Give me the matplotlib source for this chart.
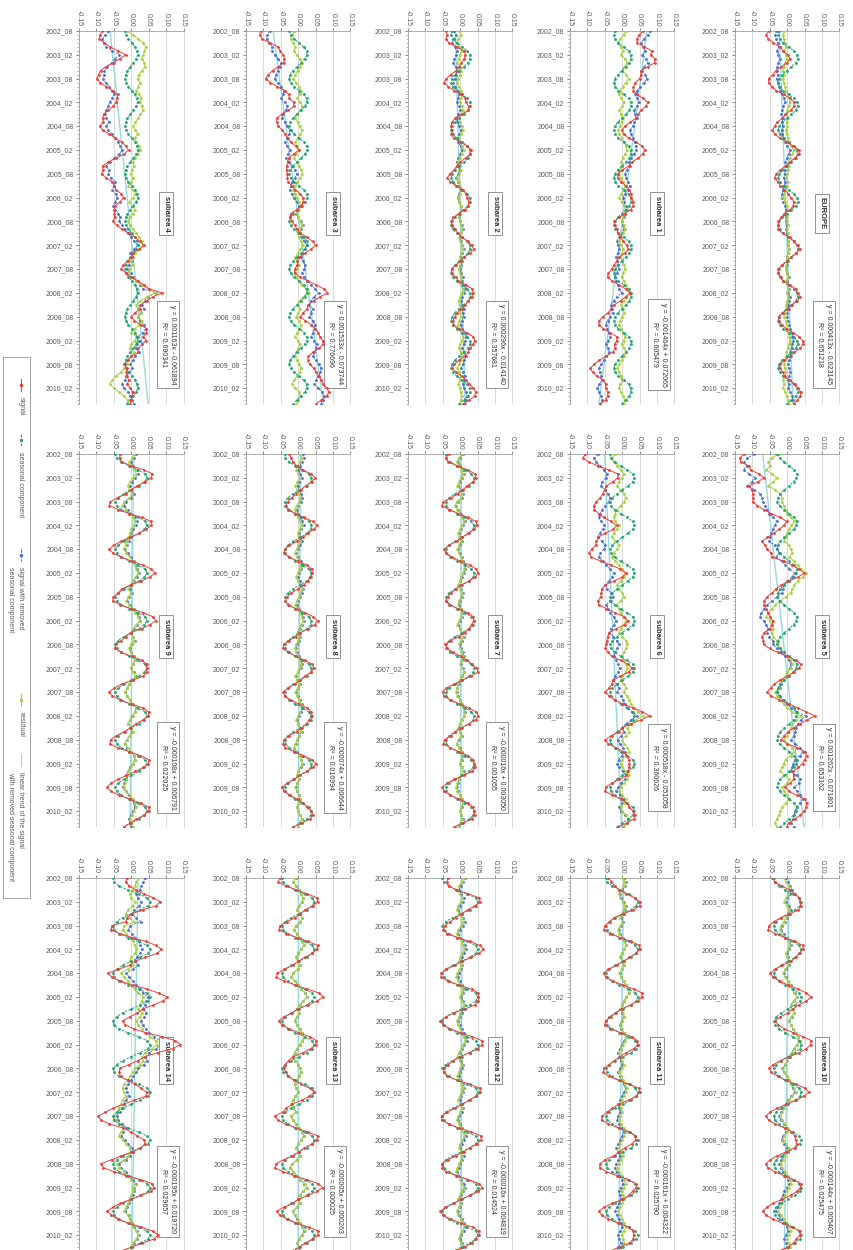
import numpy as np
import matplotlib
matplotlib.use("Agg")
import matplotlib.pyplot as plt
from matplotlib.lines import Line2D
from matplotlib.patches import Rectangle
from matplotlib.ticker import MultipleLocator

plt.rcParams['font.family'] = ['Liberation Sans', 'DejaVu Sans']

# ---- data -------------------------------------------------------------
n_months = 95  # 2002_08 .. 2010_06
date_labels = ['2002_08', '2003_02', '2003_08', '2004_02', '2004_08', '2005_02',
               '2005_08', '2006_02', '2006_08', '2007_02', '2007_08', '2008_02',
               '2008_08', '2009_02', '2009_08', '2010_02']
value_ticks = [-0.15, -0.10, -0.05, 0.00, 0.05, 0.10, 0.15]

names = ['EUROPE', 'subarea 1', 'subarea 2', 'subarea 3', 'subarea 4',
         'subarea 5', 'subarea 6', 'subarea 7', 'subarea 8', 'subarea 9',
         'subarea 10', 'subarea 11', 'subarea 12', 'subarea 13', 'subarea 14']
slopes = [0.000413, -0.001464, 0.000296, 0.001533, 0.001163,
          0.001262, 0.000518, -0.000016, -0.000074, -0.000108,
          -0.000144, -0.000161, -0.000016, -0.000005, -0.000195]
intercepts = [-0.023145, 0.072065, -0.014140, -0.073744, -0.061894,
              -0.071801, -0.051058, 0.003050, 0.006644, 0.006791,
              0.005407, 0.004322, 0.004819, 0.000263, 0.019720]
r_squared = ['0.651218', '0.605479', '0.357681', '0.776696', '0.690341',
             '0.653162', '0.360626', '0.001055', '0.016994', '0.022025',
             '0.025475', '0.025790', '0.014524', '0.000025', '0.029657']

# seasonal component, Jan..Dec (thousandths)
seas_eu = [18, 27, 30, 24, 12, -2, -14, -23, -26, -22, -12, 4]
seas_1 = [18, 24, 25, 20, 10, -2, -13, -21, -24, -20, -11, 4]
seas_2 = [20, 27, 28, 22, 10, -4, -16, -24, -26, -21, -10, 6]
seas_3 = [24, 25, 18, 8, -4, -15, -23, -26, -22, -12, 2, 16]
seas_4 = [16, 18, 14, 6, -3, -11, -16, -18, -15, -8, 2, 11]
seas_5 = [28, 26, 18, 6, -8, -20, -27, -28, -22, -10, 6, 20]
seas_6 = [30, 35, 30, 16, 0, -15, -28, -35, -33, -22, -5, 14]
seas_7 = [32, 40, 38, 25, 6, -15, -32, -41, -40, -28, -8, 14]
seas_8 = [30, 38, 36, 24, 6, -14, -30, -38, -37, -26, -8, 12]
seas_9 = [40, 45, 38, 22, 0, -22, -38, -46, -42, -28, -6, 20]
seas_10 = [34, 40, 36, 22, 2, -18, -32, -38, -36, -25, -6, 16]
seas_11 = [38, 45, 40, 25, 3, -20, -38, -46, -43, -30, -8, 18]
seas_12 = [44, 50, 44, 27, 4, -22, -42, -51, -47, -33, -9, 20]
seas_13 = [40, 46, 40, 24, 2, -20, -38, -46, -43, -30, -8, 18]
seas_14 = [45, 55, 48, 25, 0, -25, -42, -52, -50, -35, -10, 22]

# deseasoned signal minus linear trend, monthly from 2002_08 (thousandths);
# this is also the plotted residual unless one is given below
res_eu = [-8, -12, -10, -6, -4, -9, -5, -2, -6, -10, -12, -9,
          -13, -10, -6, -3, 2, 6, 8, 4, 0, -3, 2, -2,
          0, -4, -2, 3, 6, 10, 18, 14, 8, 4, 6, 2,
          0, -3, 2, -1, -6, -9, -11, -6, -2, 1, -3, 0,
          0, 3, -2, 1, 4, 2, 3, 6, 1, -2, 0, -3,
          -5, -2, 1, -3, 0, 2, -2, 3, -1, -4, -2, -6,
          -9, -5, -2, 1, 4, 6, 8, 5, 2, -3, -1, -6,
          -10, -7, -4, -8, -11, -9, -11, -6, -2, 1, 4]
res_1 = [10, 4, -6, -12, -5, 3, -4, 8, 14, 6, 0, 12,
         18, 10, 2, -6, -10, -3, 5, 0, -8, -4, 3, -2,
         -6, -12, -8, 0, 6, 10, 14, 8, 2, -4, 0, -6,
         -10, -5, 2, 8, 4, -3, -8, -2, 5, 10, 6, 2,
         -2, 4, 8, 3, -4, -8, -3, 2, -2, -6, 0, 5,
         8, 3, -2, 4, 10, 16, 24, 12, 4, -3, 2, 6,
         0, -6, -10, -4, 2, 8, 4, -2, 6, 10, 4, -2,
         -8, -14, -10, -4, 0, -6, -10, -4, 2, 8, 4]
res_2 = [-4, 2, -6, -10, -3, 4, 0, -5, -8, -2, 3, -1,
         -6, -10, -4, 2, 6, 3, -2, 4, 8, 2, -4, 0,
         4, 8, 2, -3, 0, 6, 10, 5, -2, -6, -2, 2,
         -3, -8, -5, 0, 4, -2, -6, -3, 2, 5, 0, -4,
         -2, 3, 6, 2, -3, 0, 4, 8, 3, -2, 2, -1,
         -5, -2, 3, 0, 5, 9, 4, -1, -5, -2, 3, 0,
         2, -3, -7, -2, 4, 8, 5, 0, -4, 2, 6, 1,
         -4, -8, -3, 2, -2, -6, -2, 3, 6, 2, -1]
res_3 = [-10, -18, -22, -15, -8, -12, -5, 4, 10, 5, -2, -8,
         -14, -6, 2, 8, 4, -3, 6, 12, 5, -4, -8, -2,
         4, 10, 6, -2, -8, -4, 3, -6, -12, -5, 2, 8,
         12, 6, -3, -8, -14, -10, -4, 2, 8, 3, -4, 0,
         6, 10, 4, -2, 2, 8, 14, 6, -2, -8, -4, 2,
         -4, -10, -6, 2, 10, 22, 30, 14, 4, -2, 6, 0,
         -6, 2, 8, 4, -3, -8, -2, 5, 0, -6, -10, -4,
         2, 8, 4, -4, -12, -18, -8, 2, 6, 0, -6]
res_4 = [-5, -15, -25, -22, -15, 0, 20, 5, -5, -20, -28, -30,
         -34, -28, -20, -12, -8, -15, -22, -28, -35, -40, -36, -30,
         -40, -35, -25, -18, -10, -5, 0, -10, -25, -40, -50, -45,
         -48, -40, -30, -35, -40, -32, -28, -35, -42, -38, -30, -25,
         -30, -22, -15, -8, 0, 8, 16, 5, -8, 0, -6, -15,
         -20, -10, -5, 5, 12, 20, 55, 30, 20, 10, 15, 5,
         -5, 0, 10, 15, 5, -10, -5, -15, -20, -10, -25, -30,
         -40, -35, -45, -55, -60, -70, -65, -55, -50, -45, -40]
res_4_plot = [-12, 5, 20, 35, 42, 38, 35, 30, 38, 40, 30, 22,
              18, 25, 20, 15, 22, 28, 26, 30, 35, 25, 20, 12,
              6, 12, 18, 10, 15, 22, 26, 18, 10, 5, 8, 2,
              -2, 5, 0, -8, 4, 12, 6, -6, 2, 10, 4, -4,
              -10, -4, 6, 15, 22, 30, 35, 25, 10, 4, -2, 5,
              -5, -10, 0, 15, 30, 50, 72, 45, 25, 15, 20, 28,
              20, 30, 22, 10, 0, 15, 10, -2, -5, 8, 0, -8,
              -12, -20, -30, -45, -55, -62, -50, -35, -20, -10, -12]
res_5 = [-25, -45, -55, -50, -60, -45, -30, -40, -55, -35, -20, -15,
         -15, -10, -5, 0, 10, 20, 12, 5, 0, -5, -10, 5,
         10, 15, 5, 20, 30, 40, 55, 45, 30, 20, 15, 10,
         -5, -20, -35, -45, -55, -60, -50, -45, -40, -45, -40, -30,
         -30, -20, -10, 0, 10, 15, 10, 0, -5, -15, -20, -25,
         -35, -30, -20, -10, 0, 15, 40, 25, 15, 10, 5, 0,
         -10, 0, 15, 20, 10, -5, -10, -15, -20, -5, 5, 0,
         -15, -10, 0, 5, -5, -15, -20, -25, -30, -35, -30]
res_6 = [-20, -30, -25, -15, -5, 5, 0, -10, -15, -5, 5, 10,
         5, -5, -15, -20, -25, -20, -10, -15, -25, -30, -20, -10,
         -15, -25, -30, -20, -10, 0, 10, 5, -5, -15, -10, 0,
         5, -5, -15, -10, -5, 5, 10, 5, -5, -10, 0, 10,
         15, 10, 5, 0, 5, 10, 15, 10, 0, -5, 5, 10,
         5, 15, 20, 25, 35, 45, 60, 40, 25, 15, 20, 10,
         0, 5, 15, 20, 10, 0, -5, 0, 10, 20, 15, 5,
         -5, -10, 0, 10, 5, -5, 0, 10, 20, 15, 5]
res_7 = [5, -5, -10, -3, 4, 8, 2, -4, -8, 0, 6, 3,
         -10, -15, -8, 0, 5, 10, 6, -2, -6, -3, 2, -4,
         -8, -4, 2, 6, 10, 12, 8, 3, -2, -6, 0, 4,
         2, -3, -6, 0, 6, 3, -4, -8, -2, 4, 8, 2,
         -4, 0, 5, 8, 4, 0, 6, 10, 4, -2, -6, -10,
         -12, -8, -2, 4, 8, 12, 10, 4, -2, -6, -2, 3,
         -6, -10, -4, 2, 6, 3, -2, 4, 8, 2, -4, -8,
         -12, -8, -2, 4, 8, 3, -2, 2, 6, 0, -4]
res_8 = [6, 10, 4, -2, -6, 0, 5, -3, -8, -4, 2, 6,
         3, -5, -10, -6, 0, 6, 10, 4, -2, 2, 6, 0,
         -5, -10, -4, 3, 8, 4, -2, -6, 0, 5, 10, 6,
         2, -4, -8, -2, 4, 10, 14, 8, 2, -3, 3, 0,
         -6, -10, -6, 0, 4, 8, 4, -2, -8, -4, 2, -2,
         -8, -4, 2, 8, 12, 6, 0, -6, -2, 4, 8, 2,
         -4, -8, -12, -6, 2, 8, 12, 6, 0, -4, 2, -3,
         -8, -4, 2, 6, 2, -4, 0, 6, 10, 4, 0]
res_9 = [8, 2, -6, 0, 10, 14, 6, -4, -10, -6, 2, -6,
         -20, -26, -15, -5, 6, 12, 8, 0, -4, -8, -12, -16,
         -22, -14, -4, 4, 10, 14, 20, 12, 4, -4, -8, -2,
         -8, -14, -6, 4, 12, 20, 24, 14, 6, -2, 4, 8,
         0, -6, -2, 6, 10, 4, -2, 6, 12, 4, -6, -12,
         -18, -12, -4, 6, 14, 10, 4, -4, -8, -2, 4, -4,
         -12, -18, -10, 0, 8, 12, 6, -2, -8, -12, -14, -18,
         -22, -14, -4, 4, 10, 14, 8, 2, -4, 0, 4]
res_10 = [-10, -4, 4, 8, 2, -4, -8, 0, 6, 2, -4, -10,
          -18, -22, -14, -4, 4, 8, 2, -4, 0, 6, 2, -6,
          -12, -6, 2, 8, 14, 20, 28, 18, 10, 14, 20, 12,
          4, 10, 16, 24, 30, 36, 28, 20, 14, 6, 0, -6,
          -12, -8, 0, 6, 12, 20, 24, 14, 6, -2, -8, -14,
          -20, -14, -6, 2, 0, -8, -12, -4, 4, 0, -6, -12,
          -18, -14, -6, 2, 8, 12, 4, -2, -6, -12, -16, -20,
          -26, -18, -8, 0, 6, 10, 4, -2, 4, 8, 2]
res_11 = [2, 8, 4, -4, -10, -6, 2, 8, 4, -2, -6, 0,
          -6, -12, -8, 0, 6, 10, 4, -2, -6, 0, 4, -2,
          -8, -4, 4, 10, 16, 20, 12, 6, 0, -4, 2, 6,
          0, -6, -2, 6, 12, 8, 2, -4, -10, -6, 0, 4,
          -2, -8, -4, 2, 8, 14, 10, 4, -2, -8, -4, 0,
          -6, -10, -4, 4, 10, 6, 0, -6, -10, -4, 2, -4,
          -10, -14, -8, 0, 6, 10, 4, -2, 2, 6, 0, -6,
          -12, -6, 0, 6, 10, 4, -2, 2, 6, 0, -4]
res_12 = [10, 4, -4, -8, -2, 6, 2, -6, -10, -4, 4, 8,
          2, -6, -10, -4, 4, 8, 12, 6, 0, -4, 2, -2,
          -8, -12, -6, 2, 8, 4, -2, 4, 10, 6, 0, -4,
          -10, -6, 0, 6, 10, 14, 8, 2, -4, -8, -2, 4,
          0, -4, -8, -2, 4, 8, 4, -2, -6, -2, 4, 0,
          -6, -10, -4, 2, 8, 12, 6, 0, -4, 2, 6, 2,
          -4, -8, -12, -6, 0, 6, 10, 4, -2, -6, 0, -4,
          -10, -6, 2, 8, 12, 6, 0, -4, 2, 6, 0]
res_13 = [-8, -14, -6, 2, 8, 14, 10, 2, -4, 4, 10, 6,
          -6, -12, -4, 4, 10, 16, 8, 0, -6, -2, 4, -2,
          -14, -20, -10, 0, 8, 20, 26, 14, 4, -4, 2, -4,
          -10, -4, 4, 10, 16, 12, 4, -4, -10, -16, -8, 0,
          4, 8, 2, -4, -10, -6, 0, -8, -14, -20, -14, -6,
          -22, -16, -6, 2, 10, 16, 8, 0, -6, 0, 6, -4,
          -18, -24, -14, -4, 6, 18, 24, 14, 4, -2, 4, -4,
          -16, -10, -2, 6, 12, 18, 10, 2, -4, 2, 6]
res_14 = [20, 15, 10, 5, -5, 0, 10, 5, -10, -15, -5, 10,
          -20, -25, -15, -5, 5, 10, 15, 10, 0, -5, 5, -10,
          -30, -20, -10, 0, 10, 20, 35, 30, 25, 20, 30, 25,
          15, 20, 30, 40, 55, 70, 75, 60, 40, 30, 35, 25,
          10, 5, -5, -10, -20, -25, -20, -15, -25, -30, -35, -40,
          -50, -45, -35, -20, -30, -35, -25, -15, -5, 0, -10, -20,
          -40, -35, -20, -10, 0, 10, 5, 5, 0, -5, -10, -15,
          -20, -10, -5, 0, 5, 15, 20, 15, 5, 0, -5]

seasonals = [seas_eu, seas_1, seas_2, seas_3, seas_4, seas_5, seas_6, seas_7,
             seas_8, seas_9, seas_10, seas_11, seas_12, seas_13, seas_14]
residuals = [res_eu, res_1, res_2, res_3, res_4, res_5, res_6, res_7,
             res_8, res_9, res_10, res_11, res_12, res_13, res_14]
plotted_residuals = {4: res_4_plot}

# ---- style ------------------------------------------------------------
c_signal = '#e8413c'
c_season = '#26a373'
c_deseas = '#4d6fcb'
c_resid = '#a6d13c'
c_trend = '#96d8e0'
c_text = '#5a5a5a'

W, H = 854, 1250
fig = plt.figure(figsize=(W / 100, H / 100), dpi=100)

col_left = [79, 246, 408, 570, 735]
row_top = [31, 454, 878]
ax_w, ax_h = 104.5, 373


def fx(px):
    return px / W


def fy(py):
    return 1 - py / H


months = np.arange(n_months)
for k, name in enumerate(names):
    row = k // 5
    col = 4 - k % 5
    ax = fig.add_axes([fx(col_left[col]), fy(row_top[row] + ax_h), ax_w / W, ax_h / H])

    a, b = slopes[k], intercepts[k]
    trend = a * (months + 1) + b
    seas = np.array([seasonals[k][(7 + i) % 12] for i in months]) / 1000.0
    dev = np.array(residuals[k]) / 1000.0
    deseas = trend + dev
    signal = deseas + seas
    resid = np.array(plotted_residuals.get(k, residuals[k])) / 1000.0

    ax.plot(trend, months, color=c_trend, lw=1.0, zorder=2)
    ax.plot(deseas, months, color=c_deseas, lw=0.6, ls=(0, (3, 1.5)),
            marker='o', ms=1.0, zorder=3)
    ax.plot(resid, months, color=c_resid, lw=0.7, marker='o', ms=1.0, zorder=4)
    ax.plot(seas, months, color=c_season, lw=0.7, ls=(0, (2.5, 1.5)),
            marker='o', ms=1.0, zorder=5)
    ax.plot(signal, months, color=c_signal, lw=0.7, marker='o', ms=1.0, zorder=6)

    ax.set_xlim(-0.15, 0.15)
    ax.set_ylim(n_months - 1, 0)
    ax.set_xticks(value_ticks)
    ax.set_xticklabels(['%.2f' % v for v in value_ticks])
    ax.xaxis.tick_top()
    ax.tick_params(axis='x', rotation=-90, labelsize=5, colors=c_text,
                   length=2, width=0.5, pad=1.5)
    ax.set_yticks(np.arange(0, 91, 6))
    ax.set_yticklabels(date_labels)
    ax.yaxis.set_minor_locator(MultipleLocator(1))
    ax.tick_params(axis='y', which='major', labelsize=5, colors=c_text,
                   length=2, width=0.5, pad=2)
    ax.tick_params(axis='y', which='minor', colors='#909090', length=1.5, width=0.5)
    ax.grid(axis='x', color='#d4d4d4', lw=0.6)
    ax.set_axisbelow(True)
    for s in ['top', 'left']:
        ax.spines[s].set_color('#a0a0a0')
        ax.spines[s].set_linewidth(0.6)
    ax.spines['right'].set_color('#d4d4d4')
    ax.spines['right'].set_linewidth(0.6)
    ax.spines['bottom'].set_visible(False)

    ax.text(0.10, 46, name, rotation=-90, ha='center', va='center',
            fontsize=5.5, fontweight='bold', color='#303030',
            bbox=dict(boxstyle='square,pad=0.45', fc='white', ec='#808080', lw=0.6))
    sign = '+' if b >= 0 else '-'
    eq = 'y = %.6fx %s %.6f\nR² = %s' % (a, sign, abs(b), r_squared[k])
    ax.text(0.105, 79, eq, rotation=-90, ha='center', va='center',
            multialignment='center', fontsize=5, color='#303030', linespacing=1.3,
            bbox=dict(boxstyle='square,pad=0.5', fc='white', ec='#808080', lw=0.6))

# ---- legend (drawn rotated, like the rest of the figure) -------------
fig.add_artist(Rectangle((fx(3), fy(898)), fx(30) - fx(3), fy(357) - fy(898),
                         transform=fig.transFigure, fill=False, ec='#909090', lw=0.6))
legend_items = [
    (c_signal, '-', 385, ['signal']),
    (c_season, (0, (2.5, 1.5)), 440, ['seasonal component']),
    (c_deseas, (0, (3, 1.5)), 555, ['signal with removed', 'seasonal component']),
    (c_resid, '-', 700, ['residual']),
    (c_trend, '-', 760, ['linear trend of the signal', 'with removed seasonal component']),
]
for color, ls, yc, lines in legend_items:
    fig.add_artist(Line2D([fx(21), fx(21)], [fy(yc - 6), fy(yc + 6)],
                          transform=fig.transFigure, color=color, lw=0.8, ls=ls))
    if color != c_trend:
        fig.add_artist(Line2D([fx(21)], [fy(yc)], transform=fig.transFigure,
                              color=color, marker='o', ms=1.5, lw=0))
    for j, line in enumerate(lines):
        fig.text(fx(21 - 10 * j), fy(yc + 12), line, rotation=-90,
                 rotation_mode='anchor', ha='left', va='center',
                 fontsize=5, color=c_text)

fig.savefig('out.png', dpi=100)
